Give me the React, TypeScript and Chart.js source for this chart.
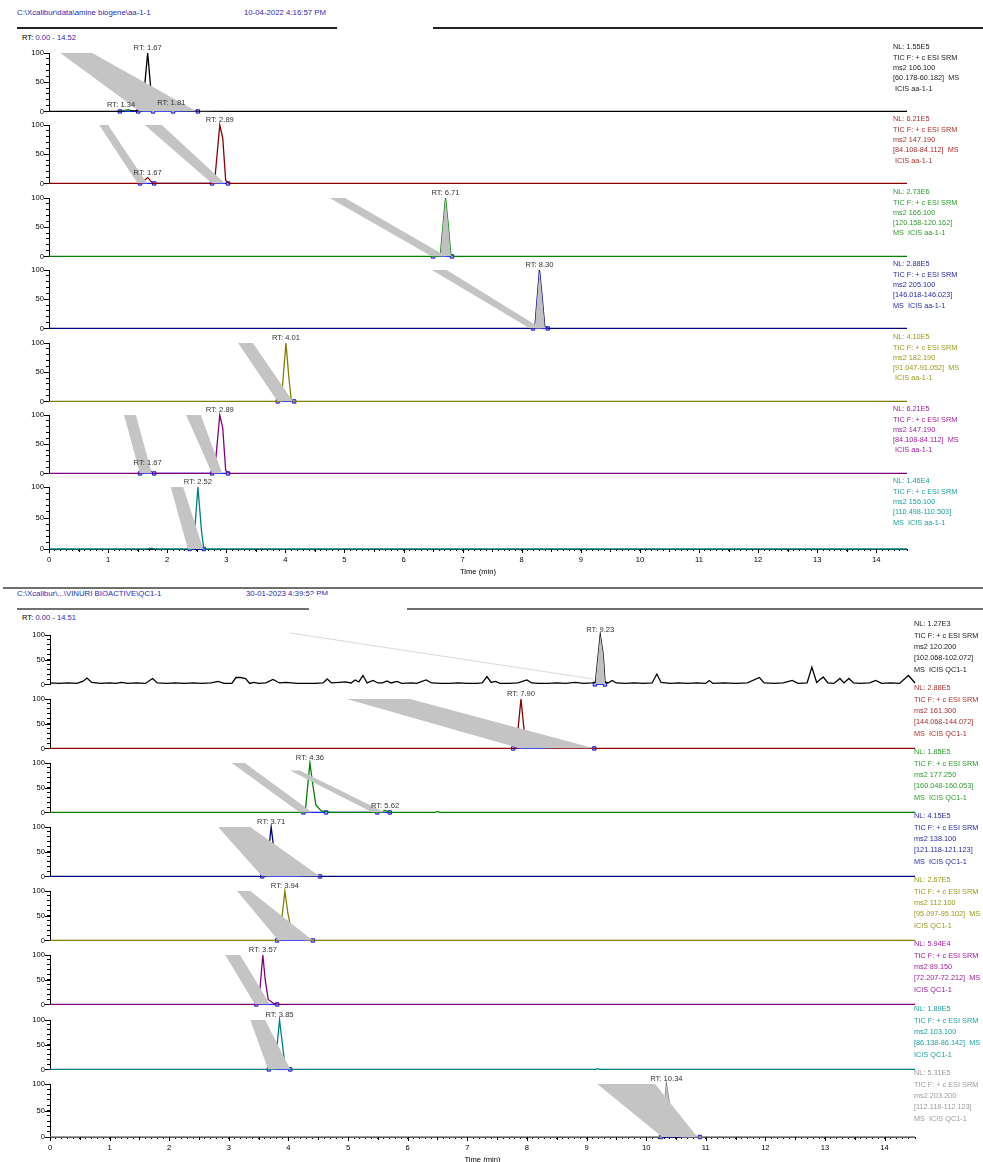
import React, { useEffect, useRef } from 'react';
import { Chart, registerables } from 'chart.js';
Chart.register(...registerables);

type Pt = [number, number];
type Lbl = [number, number, number]; // retention time, intensity of apex, label x position (min)

const FONT = '"Liberation Sans", Arial, sans-serif';

// ================= RUN 1 : amine biogene aa-1-1 =================
const run1Path = 'C:\\Xcalibur\\data\\amine biogene\\aa-1-1';
const run1Date = '10-04-2022 4:16:57 PM';
const run1RangeText = '0.00 - 14.52';
const run1Range = 14.52;

const r1t1Trace: Pt[] = [[0, 0], [1.2, 0], [1.3, 2], [1.34, 2.5], [1.4, 1], [1.5, 0.8], [1.58, 1.5], [1.67, 100], [1.73, 30], [1.77, 3], [1.81, 6], [1.88, 3], [2.0, 2.5], [2.2, 1.5], [2.5, 0.5], [3, 0], [14.52, 0]];
const r1t1Bands: Pt[][] = [[[0.19, 100], [0.73, 100], [2.5, 0], [1.54, 0]]];
const r1t1Marks: Pt[][] = [[[1.24, 2], [1.38, 2]], [[1.82, 5.5], [2.1, 5.5]]];
const r1t1Markers = [1.2, 1.51, 1.76, 2.1, 2.52];
const r1t1Labels: Lbl[] = [[1.67, 100, 1.67], [1.34, 3, 1.22], [1.81, 7, 2.07]];
const r1t1Info = ['NL: 1.55E5', 'TIC F: + c ESI SRM', 'ms2 106.100', '[60.178-60.182]  MS', ' ICIS aa-1-1'];

const r1t2Trace: Pt[] = [[0, 0], [1.55, 0], [1.67, 10], [1.76, 0], [2.8, 0], [2.89, 100], [2.94, 78], [2.99, 5], [3.05, 0], [14.52, 0]];
const r1t2Bands: Pt[][] = [[[0.85, 100], [1.0, 100], [1.66, 0], [1.5, 0]], [[1.62, 100], [1.91, 100], [2.98, 0], [2.76, 0]]];
const r1t2Markers = [1.54, 1.78, 2.76, 3.03];
const r1t2Labels: Lbl[] = [[1.67, 10, 1.67], [2.89, 100, 2.89]];
const r1t2Info = ['NL: 6.21E5', 'TIC F: + c ESI SRM', 'ms2 147.190', '[84.108-84.112]  MS', ' ICIS aa-1-1'];

const r1t3Trace: Pt[] = [[0, 0], [6.62, 0], [6.71, 100], [6.75, 60], [6.8, 3], [6.85, 0], [14.52, 0]];
const r1t3Fill: Pt[] = [[6.62, 0], [6.71, 100], [6.75, 60], [6.8, 3], [6.82, 0]];
const r1t3Bands: Pt[][] = [[[4.75, 100], [5.01, 100], [6.73, 0], [6.48, 0]]];
const r1t3Markers = [6.5, 6.82];
const r1t3Labels: Lbl[] = [[6.71, 100, 6.71]];
const r1t3Info = ['NL: 2.73E6', 'TIC F: + c ESI SRM', 'ms2 166.100', '[120.158-120.162]', 'MS  ICIS aa-1-1'];

const r1t4Trace: Pt[] = [[0, 0], [8.22, 0], [8.3, 100], [8.34, 60], [8.39, 3], [8.44, 0], [14.52, 0]];
const r1t4Fill: Pt[] = [[8.22, 0], [8.3, 100], [8.34, 60], [8.39, 3], [8.42, 0]];
const r1t4Bands: Pt[][] = [[[6.48, 100], [6.73, 100], [8.33, 0], [8.14, 0]]];
const r1t4Markers = [8.19, 8.44];
const r1t4Labels: Lbl[] = [[8.3, 100, 8.3]];
const r1t4Info = ['NL: 2.88E5', 'TIC F: + c ESI SRM', 'ms2 205.100', '[146.018-146.023]', 'MS  ICIS aa-1-1'];

const r1t5Trace: Pt[] = [[0, 0], [3.93, 0], [4.01, 100], [4.06, 40], [4.1, 2], [4.14, 0], [14.52, 0]];
const r1t5Bands: Pt[][] = [[[3.2, 100], [3.45, 100], [4.13, 0], [3.87, 0]]];
const r1t5Markers = [3.87, 4.15];
const r1t5Labels: Lbl[] = [[4.01, 100, 4.01]];
const r1t5Info = ['NL: 4.10E5', 'TIC F: + c ESI SRM', 'ms2 182.190', '[91.047-91.052]  MS', ' ICIS aa-1-1'];

const r1t6Trace: Pt[] = [[0, 0], [1.55, 0], [1.67, 10], [1.76, 0], [2.8, 0], [2.89, 100], [2.94, 78], [2.99, 5], [3.05, 0], [14.52, 0]];
const r1t6Bands: Pt[][] = [[[1.27, 100], [1.47, 100], [1.74, 0], [1.54, 0]], [[2.32, 100], [2.57, 100], [2.93, 0], [2.76, 0]]];
const r1t6Markers = [1.54, 1.78, 2.76, 3.03];
const r1t6Labels: Lbl[] = [[1.67, 10, 1.67], [2.89, 100, 2.89]];
const r1t6Info = ['NL: 6.21E5', 'TIC F: + c ESI SRM', 'ms2 147.190', '[84.108-84.112]  MS', ' ICIS aa-1-1'];

const r1t7Trace: Pt[] = [[0, 0], [1.65, 0], [1.72, 1.5], [1.8, 0], [2.42, 0], [2.45, 10], [2.52, 100], [2.58, 30], [2.62, 0], [14.52, 0]];
const r1t7Bands: Pt[][] = [[[2.06, 100], [2.27, 100], [2.61, 0], [2.35, 0]]];
const r1t7Markers = [2.38, 2.62];
const r1t7Labels: Lbl[] = [[2.52, 100, 2.52]];
const r1t7Info = ['NL: 1.46E4', 'TIC F: + c ESI SRM', 'ms2 156.100', '[110.498-110.503]', 'MS  ICIS aa-1-1'];

// ================= RUN 2 : VINURI BIOACTIVE QC1-1 =================
const run2Path = 'C:\\Xcalibur\\...\\VINURI BIOACTIVE\\QC1-1';
const run2Date = '30-01-2023 4:39:52 PM';
const run2RangeText = '0.00 - 14.51';
const run2Range = 14.51;

const r2t1Trace: Pt[] = [[0, 3], [0.15, 2], [0.3, 3], [0.45, 2], [0.55, 6], [0.62, 13], [0.7, 4], [0.85, 2], [1.0, 3], [1.1, 2], [1.2, 4], [1.3, 2], [1.45, 3], [1.6, 2], [1.72, 12], [1.8, 3], [1.95, 2], [2.1, 3], [2.25, 2], [2.4, 3], [2.55, 2], [2.7, 3], [2.82, 6], [2.92, 2], [3.05, 2], [3.12, 14], [3.2, 14], [3.28, 12], [3.35, 2], [3.42, 4], [3.5, 2], [3.62, 3], [3.74, 10], [3.85, 3], [3.95, 4], [4.05, 3], [4.15, 2], [4.3, 2], [4.45, 2], [4.58, 3], [4.65, 11], [4.72, 3], [4.85, 4], [4.95, 5], [5.05, 3], [5.12, 9], [5.18, 5], [5.25, 18], [5.32, 3], [5.42, 8], [5.5, 3], [5.58, 3], [5.65, 7], [5.72, 3], [5.82, 6], [5.9, 2], [6.07, 3], [6.15, 2], [6.31, 9], [6.4, 3], [6.55, 2], [6.7, 2], [6.85, 3], [7.0, 2], [7.15, 2], [7.25, 3], [7.33, 16], [7.4, 4], [7.47, 6], [7.55, 2], [7.7, 2], [7.85, 3], [8.0, 9], [8.08, 3], [8.2, 2], [8.35, 2], [8.5, 3], [8.65, 2], [8.81, 4], [8.95, 2], [9.1, 3], [9.15, 5], [9.23, 100], [9.28, 60], [9.31, 5], [9.36, 3], [9.43, 8], [9.5, 3], [9.65, 2], [9.8, 3], [9.95, 2], [10.1, 3], [10.18, 21], [10.25, 4], [10.4, 2], [10.55, 3], [10.7, 2], [10.85, 3], [11.0, 2], [11.06, 8], [11.12, 2], [11.3, 3], [11.5, 2], [11.7, 3], [11.9, 14], [11.98, 3], [12.15, 2], [12.3, 3], [12.45, 8], [12.55, 2], [12.7, 3], [12.78, 35], [12.86, 4], [12.97, 15], [13.05, 3], [13.15, 2], [13.25, 12], [13.32, 3], [13.4, 12], [13.48, 3], [13.6, 2], [13.75, 3], [13.85, 8], [13.95, 2], [14.1, 3], [14.25, 2], [14.4, 18], [14.51, 3]];
const r2t1Fill: Pt[] = [[9.15, 5], [9.23, 100], [9.28, 60], [9.31, 5]];
const r2t1Lines: Pt[][] = [[[4.03, 104], [9.11, 11]]];
const r2t1Markers = [9.14, 9.31];
const r2t1Labels: Lbl[] = [[9.23, 100, 9.23]];
const r2t1Info = ['NL: 1.27E3', 'TIC F: + c ESI SRM', 'ms2 120.200', '[102.068-102.072]', 'MS  ICIS QC1-1'];

const r2t2Trace: Pt[] = [[0, 0], [7.82, 0], [7.9, 100], [7.95, 40], [8.0, 8], [8.1, 3], [8.3, 1], [8.5, 0], [14.51, 0]];
const r2t2Bands: Pt[][] = [[[4.98, 100], [6.04, 100], [9.14, 0], [7.89, 0]]];
const r2t2Markers = [7.77, 9.13];
const r2t2Labels: Lbl[] = [[7.9, 100, 7.9]];
const r2t2Info = ['NL: 2.88E5', 'TIC F: + c ESI SRM', 'ms2 161.300', '[144.068-144.072]', 'MS  ICIS QC1-1'];

const r2t3Trace: Pt[] = [[0, 0], [4.28, 0], [4.36, 100], [4.41, 55], [4.46, 15], [4.55, 3], [4.7, 0], [5.55, 0], [5.62, 4], [5.7, 0], [6.45, 0], [6.5, 1.5], [6.55, 0], [14.51, 0]];
const r2t3Bands: Pt[][] = [[[3.05, 100], [3.27, 100], [4.4, 0], [4.19, 0]], [[4.03, 85], [4.19, 85], [5.62, 0], [5.41, 0]]];
const r2t3Markers = [4.25, 4.63, 5.49, 5.7];
const r2t3Labels: Lbl[] = [[4.36, 100, 4.36], [5.62, 4, 5.62]];
const r2t3Info = ['NL: 1.85E5', 'TIC F: + c ESI SRM', 'ms2 177.250', '[160.048-160.053]', 'MS  ICIS QC1-1'];

const r2t4Trace: Pt[] = [[0, 0], [3.62, 0], [3.71, 100], [3.76, 50], [3.82, 15], [3.95, 4], [4.2, 1], [4.5, 0], [14.51, 0]];
const r2t4Bands: Pt[][] = [[[2.82, 100], [3.36, 100], [4.53, 0], [3.56, 0]]];
const r2t4Markers = [3.56, 4.53];
const r2t4Labels: Lbl[] = [[3.71, 100, 3.71]];
const r2t4Info = ['NL: 4.15E5', 'TIC F: + c ESI SRM', 'ms2 138.100', '[121.118-121.123]', 'MS  ICIS QC1-1'];

const r2t5Trace: Pt[] = [[0, 0], [3.85, 0], [3.94, 100], [3.99, 55], [4.05, 20], [4.15, 5], [4.3, 1], [4.45, 0], [14.51, 0]];
const r2t5Bands: Pt[][] = [[[3.14, 100], [3.36, 100], [4.41, 0], [3.83, 0]]];
const r2t5Markers = [3.81, 4.41];
const r2t5Labels: Lbl[] = [[3.94, 100, 3.94]];
const r2t5Info = ['NL: 2.67E5', 'TIC F: + c ESI SRM', 'ms2 112.100', '[95.097-95.102]  MS', 'ICIS QC1-1'];

const r2t6Trace: Pt[] = [[0, 0], [3.5, 0], [3.57, 100], [3.61, 50], [3.66, 10], [3.75, 2], [3.85, 0], [14.51, 0]];
const r2t6Bands: Pt[][] = [[[2.94, 100], [3.19, 100], [3.69, 0], [3.44, 0]]];
const r2t6Markers = [3.46, 3.81];
const r2t6Labels: Lbl[] = [[3.57, 100, 3.57]];
const r2t6Info = ['NL: 5.94E4', 'TIC F: + c ESI SRM', 'ms2 89.150', '[72.207-72.212]  MS', 'ICIS QC1-1'];

const r2t7Trace: Pt[] = [[0, 0], [3.77, 0], [3.85, 100], [3.89, 60], [3.94, 10], [4.0, 0], [9.15, 0], [9.18, 1.5], [9.22, 0], [14.51, 0]];
const r2t7Bands: Pt[][] = [[[3.36, 100], [3.61, 100], [4.03, 0], [3.66, 0]]];
const r2t7Markers = [3.67, 4.03];
const r2t7Labels: Lbl[] = [[3.85, 100, 3.85]];
const r2t7Info = ['NL: 1.89E5', 'TIC F: + c ESI SRM', 'ms2 103.100', '[86.138-86.142]  MS', 'ICIS QC1-1'];

const r2t8Trace: Pt[] = [[0, 0], [10.26, 0], [10.34, 100], [10.38, 70], [10.44, 25], [10.52, 5], [10.6, 0], [14.51, 0]];
const r2t8Fill: Pt[] = [[10.26, 0], [10.34, 100], [10.38, 70], [10.44, 25], [10.52, 5], [10.6, 0]];
const r2t8Bands: Pt[][] = [[[9.18, 100], [10.15, 100], [10.86, 0], [10.27, 0]]];
const r2t8Markers = [10.25, 10.9];
const r2t8Labels: Lbl[] = [[10.34, 100, 10.34]];
const r2t8Info = ['NL: 5.31E5', 'TIC F: + c ESI SRM', 'ms2 203.200', '[112.118-112.123]', 'MS  ICIS QC1-1'];

// ================= styles & layout =================
const TRACE_COLORS = ['#000000', '#8b0000', '#008000', '#000080', '#808000', '#800080', '#008080', '#808080'];
const INFO_COLORS = ['#222222', '#a83232', '#2e9a2e', '#2b2ba5', '#9a9a1e', '#a0209a', '#20a0a0', '#9c9c9c'];
const BAND_COLOR = '#c4c4c4';

interface PanelDef {
  trace: Pt[];
  fill?: Pt[];
  bands?: Pt[][];
  lines?: Pt[][];
  marks?: Pt[][];
  markers: number[];
  labels: Lbl[];
  info: string[];
  color: number;
}

interface SectionDef {
  x0: number; ppm: number; range: number; tops: number[]; h: number;
  infoX: number; infoDy: number; infoStep1: number; infoStep: number;
  panels: PanelDef[];
}

const SEC1: SectionDef = {
  x0: 49, ppm: 59.1, range: run1Range, tops: [53, 125, 197.5, 270, 342.5, 414.5, 487], h: 62,
  infoX: 893, infoDy: -6, infoStep1: 11, infoStep: 10.2,
  panels: [
    { trace: r1t1Trace, bands: r1t1Bands, marks: r1t1Marks, markers: r1t1Markers, labels: r1t1Labels, info: r1t1Info, color: 0 },
    { trace: r1t2Trace, bands: r1t2Bands, markers: r1t2Markers, labels: r1t2Labels, info: r1t2Info, color: 1 },
    { trace: r1t3Trace, fill: r1t3Fill, bands: r1t3Bands, markers: r1t3Markers, labels: r1t3Labels, info: r1t3Info, color: 2 },
    { trace: r1t4Trace, fill: r1t4Fill, bands: r1t4Bands, markers: r1t4Markers, labels: r1t4Labels, info: r1t4Info, color: 3 },
    { trace: r1t5Trace, bands: r1t5Bands, markers: r1t5Markers, labels: r1t5Labels, info: r1t5Info, color: 4 },
    { trace: r1t6Trace, bands: r1t6Bands, markers: r1t6Markers, labels: r1t6Labels, info: r1t6Info, color: 5 },
    { trace: r1t7Trace, bands: r1t7Bands, markers: r1t7Markers, labels: r1t7Labels, info: r1t7Info, color: 6 },
  ],
};

const SEC2: SectionDef = {
  x0: 50, ppm: 59.6, range: run2Range, tops: [635, 699, 763, 827, 891, 955, 1020, 1084], h: 52.5,
  infoX: 914, infoDy: -11, infoStep1: 12, infoStep: 11.2,
  panels: [
    { trace: r2t1Trace, fill: r2t1Fill, lines: r2t1Lines, markers: r2t1Markers, labels: r2t1Labels, info: r2t1Info, color: 0 },
    { trace: r2t2Trace, bands: r2t2Bands, markers: r2t2Markers, labels: r2t2Labels, info: r2t2Info, color: 1 },
    { trace: r2t3Trace, bands: r2t3Bands, markers: r2t3Markers, labels: r2t3Labels, info: r2t3Info, color: 2 },
    { trace: r2t4Trace, bands: r2t4Bands, markers: r2t4Markers, labels: r2t4Labels, info: r2t4Info, color: 3 },
    { trace: r2t5Trace, bands: r2t5Bands, markers: r2t5Markers, labels: r2t5Labels, info: r2t5Info, color: 4 },
    { trace: r2t6Trace, bands: r2t6Bands, markers: r2t6Markers, labels: r2t6Labels, info: r2t6Info, color: 5 },
    { trace: r2t7Trace, bands: r2t7Bands, markers: r2t7Markers, labels: r2t7Labels, info: r2t7Info, color: 6 },
    { trace: r2t8Trace, fill: r2t8Fill, bands: r2t8Bands, markers: r2t8Markers, labels: r2t8Labels, info: r2t8Info, color: 7 },
  ],
};

const YW = 40;
const PT = 14;
const PB = 3;
const PR = 6;
const XH = 27;

const toXY = (pts: Pt[]) => pts.map(([x, y]) => ({ x, y }));
const isMult = (v: number, m: number) => Math.abs(v / m - Math.round(v / m)) < 1e-6;

// longer tick marks at major values, drawn from the library's own scales
const majorTickPlugin = {
  id: 'majorTicks',
  afterDraw(chart: any) {
    const ctx = chart.ctx;
    ctx.save();
    ctx.strokeStyle = '#000000';
    ctx.lineWidth = 1;
    const ys = chart.scales.y;
    ys.ticks.forEach((t: any) => {
      if (isMult(t.value, 50)) {
        const y = Math.round(ys.getPixelForValue(t.value)) + 0.5;
        ctx.beginPath(); ctx.moveTo(ys.right - 5, y); ctx.lineTo(ys.right, y); ctx.stroke();
      }
    });
    const xs = chart.scales.x;
    if (xs.options.display) {
      xs.ticks.forEach((t: any) => {
        const len = isMult(t.value, 1) ? 4 : isMult(t.value, 0.5) ? 3 : 0;
        if (len) {
          const x = Math.round(xs.getPixelForValue(t.value)) + 0.5;
          ctx.beginPath(); ctx.moveTo(x, xs.top); ctx.lineTo(x, xs.top + len); ctx.stroke();
        }
      });
    }
    ctx.restore();
  },
};

function Panel({ sec, idx }: { sec: SectionDef; idx: number }) {
  const ref = useRef<HTMLCanvasElement>(null);
  const def = sec.panels[idx];
  const last = idx === sec.panels.length - 1;
  const plotW = sec.range * sec.ppm;
  const W = Math.round(YW + plotW + PR);
  const H = Math.round(PT + sec.h + (last ? XH : PB));
  const left = sec.x0 - YW;
  const top = sec.tops[idx] - PT;

  useEffect(() => {
    const datasets: any[] = [];
    (def.bands || []).forEach((b) => {
      datasets.push({
        data: toXY([...b, b[0]]), borderWidth: 0, borderColor: 'rgba(0,0,0,0)',
        backgroundColor: BAND_COLOR, fill: 'shape', pointRadius: 0, tension: 0, clip: false,
      });
    });
    (def.lines || []).forEach((l) => {
      datasets.push({ data: toXY(l), borderWidth: 0.6, borderColor: '#c0c0c0', pointRadius: 0, fill: false, clip: false });
    });
    if (def.fill) {
      datasets.push({ data: toXY(def.fill), borderWidth: 0, borderColor: 'rgba(0,0,0,0)', backgroundColor: '#c0c0c0', fill: 'origin', pointRadius: 0 });
    }
    (def.marks || []).forEach((l) => {
      datasets.push({ data: toXY(l), borderWidth: 1, borderColor: '#30b030', pointRadius: 0, fill: false, clip: false });
    });
    datasets.push({ data: toXY(def.trace), borderColor: TRACE_COLORS[def.color], borderWidth: 1.3, pointRadius: 0, fill: false, tension: 0, clip: 3 });
    if (def.markers.length) {
      datasets.push({
        data: def.markers.map((t) => ({ x: t, y: 0 })), borderColor: '#2020ff', borderWidth: 1.2,
        pointStyle: 'rect', pointRadius: 2.4, pointBackgroundColor: '#b0b0ff', pointBorderColor: '#1515e0', pointBorderWidth: 1,
        fill: false, clip: false, showLine: true,
      });
    }
    const labels = def.labels;
    const rtPlugin = {
      id: 'rtLabels',
      afterDatasetsDraw(chart: any) {
        const ctx = chart.ctx;
        const xs = chart.scales.x;
        const ys = chart.scales.y;
        ctx.save();
        ctx.font = `7.6px ${FONT}`;
        ctx.fillStyle = '#333333';
        ctx.textAlign = 'center';
        ctx.textBaseline = 'bottom';
        labels.forEach(([rt, v, tx]) => {
          ctx.fillText('RT: ' + rt.toFixed(2), xs.getPixelForValue(tx), ys.getPixelForValue(v) - 1);
        });
        ctx.restore();
      },
    };
    const xScale: any = {
      type: 'linear', min: 0, max: sec.range, display: last,
      border: { display: true, color: '#000000', width: 1 },
      grid: { drawOnChartArea: false, drawTicks: true, tickLength: 2, color: '#000000' },
      ticks: {
        stepSize: 0.1, autoSkip: false, maxRotation: 0, minRotation: 0, padding: 4,
        color: '#000000', font: { size: 7.6, family: FONT },
        callback: (v: any) => (isMult(v, 1) ? String(Math.round(v)) : ''),
      },
      title: { display: true, text: 'Time (min)', color: '#000000', font: { size: 7.6, family: FONT }, padding: { top: 0, bottom: 0 } },
    };
    if (last) xScale.afterFit = (s: any) => { s.height = XH; };
    const chart = new Chart(ref.current as HTMLCanvasElement, {
      type: 'line',
      data: { datasets },
      options: {
        animation: false,
        responsive: false,
        devicePixelRatio: 1,
        events: [],
        layout: { padding: { top: PT, right: PR, bottom: last ? 0 : PB, left: 0 } },
        plugins: { legend: { display: false }, tooltip: { enabled: false } },
        scales: {
          x: xScale,
          y: {
            min: 0, max: 100,
            afterFit: (s: any) => { s.width = YW; },
            border: { display: true, color: '#000000', width: 1 },
            grid: { drawOnChartArea: false, drawTicks: true, tickLength: 3, color: '#000000' },
            ticks: {
              stepSize: 10, autoSkip: false, padding: 2, color: '#000000', font: { size: 7.6, family: FONT },
              callback: (v: any) => (v % 50 === 0 ? String(v) : ''),
            },
          },
        },
      } as any,
      plugins: [rtPlugin, majorTickPlugin],
    });
    return () => chart.destroy();
  }, []);

  return (
    <canvas
      ref={ref}
      width={W}
      height={H}
      style={{ position: 'absolute', left, top, width: W, height: H }}
    />
  );
}

function Info({ sec, idx }: { sec: SectionDef; idx: number }) {
  const def = sec.panels[idx];
  const c0 = sec.tops[idx] + sec.infoDy;
  return (
    <>
      {def.info.map((line, i) => {
        const cy = i === 0 ? c0 : c0 + sec.infoStep1 + (i - 1) * sec.infoStep;
        return (
          <div
            key={i}
            style={{
              position: 'absolute', left: sec.infoX, top: cy - 5, height: 10, lineHeight: '10px',
              fontSize: 7.3, fontFamily: FONT, color: INFO_COLORS[def.color], whiteSpace: 'pre',
            }}
          >
            {line}
          </div>
        );
      })}
    </>
  );
}

const textStyle = (x: number, y: number, color: string, size = 7.8): React.CSSProperties => ({
  position: 'absolute', left: x, top: y - 5, height: 10, lineHeight: '10px', fontSize: size,
  fontFamily: FONT, color, whiteSpace: 'pre',
});

const lineStyle = (x1: number, x2: number, y: number, color: string, w: number): React.CSSProperties => ({
  position: 'absolute', left: x1, top: y - w / 2, width: x2 - x1, height: w, background: color,
});

export default function App() {
  return (
    <div style={{ position: 'absolute', left: 0, top: 0, width: 983, height: 1162, background: '#ffffff', overflow: 'hidden' }}>
      {/* Run 1 header */}
      <div style={textStyle(17, 13, '#2b2bb0')}>{run1Path}</div>
      <div style={textStyle(244, 13, '#2b2bb0')}>{run1Date}</div>
      <div style={lineStyle(17, 337, 28, '#222222', 1.3)} />
      <div style={lineStyle(433, 983, 28, '#222222', 1.3)} />
      <div style={textStyle(22, 38, '#000000', 7.6)}>
        RT: <span style={{ color: '#2b2bb0' }}>{run1RangeText}</span>
      </div>
      {SEC1.panels.map((_, i) => <Panel key={'a' + i} sec={SEC1} idx={i} />)}
      {SEC1.panels.map((_, i) => <Info key={'ai' + i} sec={SEC1} idx={i} />)}

      {/* Run 2 header */}
      <div style={lineStyle(3, 983, 588, '#707070', 2.2)} />
      <div style={textStyle(17, 594, '#2b2bb0')}>{run2Path}</div>
      <div style={textStyle(246, 594, '#2b2bb0')}>{run2Date}</div>
      <div style={{ position: 'absolute', left: 309, top: 594.5, width: 98, height: 18, background: '#ffffff' }} />
      <div style={lineStyle(17, 309, 609, '#707070', 1.8)} />
      <div style={lineStyle(407, 983, 609, '#707070', 1.8)} />
      <div style={textStyle(22, 618, '#000000', 7.6)}>
        RT: <span style={{ color: '#2b2bb0' }}>{run2RangeText}</span>
      </div>
      {SEC2.panels.map((_, i) => <Panel key={'b' + i} sec={SEC2} idx={i} />)}
      {SEC2.panels.map((_, i) => <Info key={'bi' + i} sec={SEC2} idx={i} />)}
    </div>
  );
}
